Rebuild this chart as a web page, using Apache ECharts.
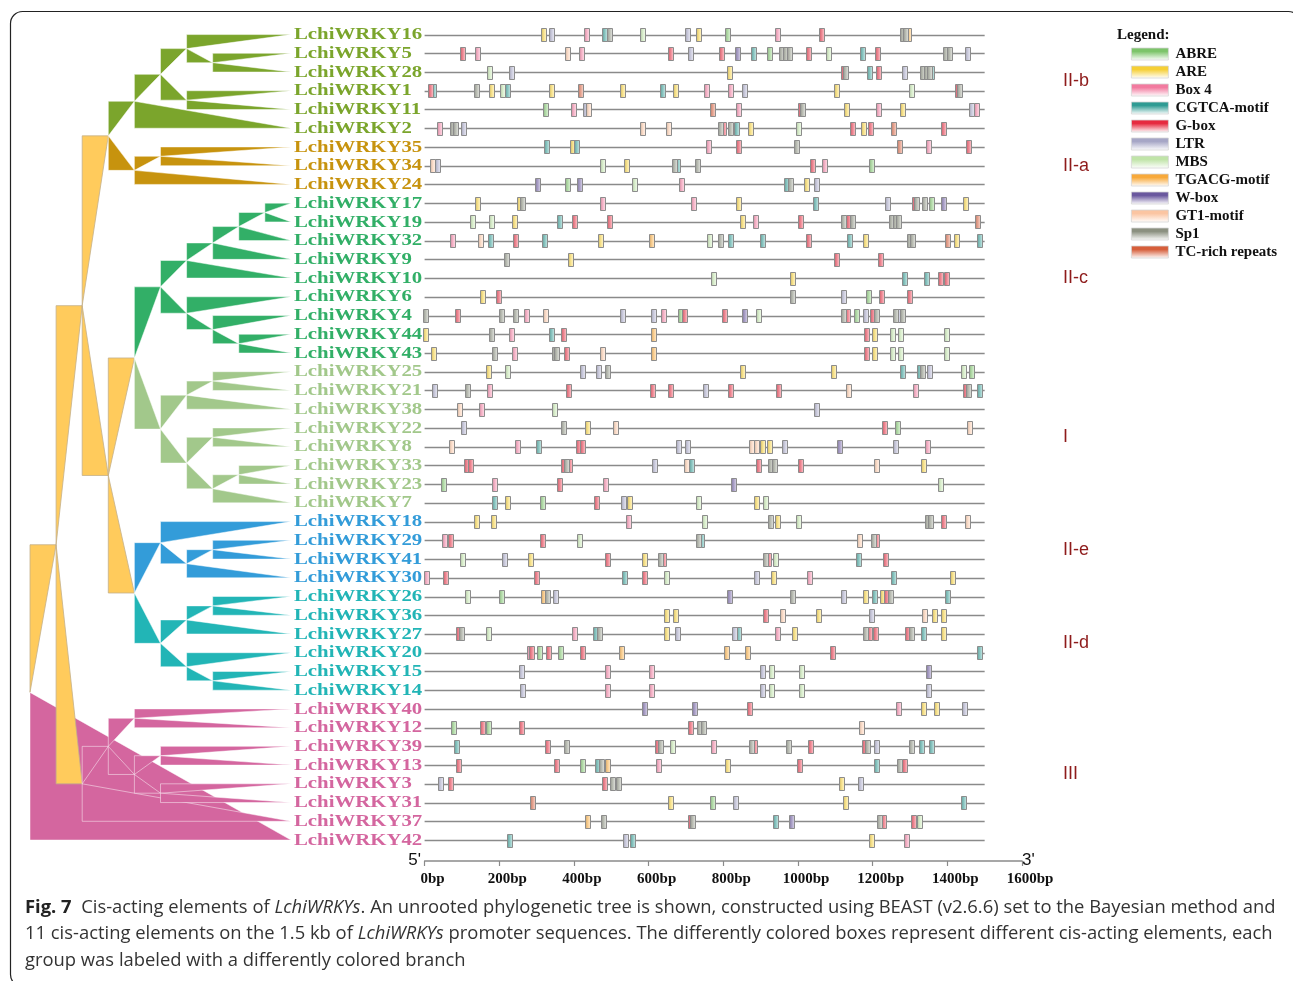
<!DOCTYPE html>
<html><head><meta charset="utf-8">
<script src="https://cdn.jsdelivr.net/npm/echarts@6/dist/echarts.min.js"></script>
<style>html,body{margin:0;padding:0;background:#fff}#c{width:1293px;height:981px}</style>
</head><body><div id="c"></div><script>
// ---------------- data ----------------
const genes = ['LchiWRKY16','LchiWRKY5','LchiWRKY28','LchiWRKY1','LchiWRKY11','LchiWRKY2',
  'LchiWRKY35','LchiWRKY34','LchiWRKY24',
  'LchiWRKY17','LchiWRKY19','LchiWRKY32','LchiWRKY9','LchiWRKY10','LchiWRKY6','LchiWRKY4','LchiWRKY44','LchiWRKY43',
  'LchiWRKY25','LchiWRKY21','LchiWRKY38','LchiWRKY22','LchiWRKY8','LchiWRKY33','LchiWRKY23','LchiWRKY7',
  'LchiWRKY18','LchiWRKY29','LchiWRKY41','LchiWRKY30',
  'LchiWRKY26','LchiWRKY36','LchiWRKY27','LchiWRKY20','LchiWRKY15','LchiWRKY14',
  'LchiWRKY40','LchiWRKY12','LchiWRKY39','LchiWRKY13','LchiWRKY3','LchiWRKY31','LchiWRKY37','LchiWRKY42'];
const geneGroup = ['II-b','II-b','II-b','II-b','II-b','II-b','II-a','II-a','II-a',
  'II-c','II-c','II-c','II-c','II-c','II-c','II-c','II-c','II-c',
  'I','I','I','I','I','I','I','I','II-e','II-e','II-e','II-e',
  'II-d','II-d','II-d','II-d','II-d','II-d','III','III','III','III','III','III','III','III'];
const groupNames = ['II-b','II-a','II-c','I','II-e','II-d','III'];
const elementNames = ['ABRE','ARE','Box 4','CGTCA-motif','G-box','LTR','MBS','TGACG-motif','W-box','GT1-motif','Sp1','TC-rich repeats'];
const elementCodes = ['A','R','B','C','G','L','M','T','W','T1','S','TC'];
const promoterLength = 1500;   // bp
const axisMaxBp = 1600;
const axisStepBp = 200;
// cis-element sites per gene row: [position (bp), element code]
const sites = [
 [[319,'R'],[341,'L'],[434,'B'],[483,'C'],[494,'S'],[584,'M'],[704,'L'],[733,'R'],[810,'A'],[945,'B'],[1063,'G'],[1279,'S'],[1287,'S'],[1295,'T']],
 [[101,'G'],[141,'B'],[383,'T1'],[421,'B'],[658,'G'],[713,'L'],[795,'G'],[838,'W'],[881,'C'],[923,'A'],[956,'S'],[967,'S'],[977,'S'],[1028,'G'],[1081,'M'],[1172,'C'],[1212,'G'],[1396,'S'],[1405,'S'],[1454,'L']],
 [[173,'M'],[234,'L'],[816,'R'],[1121,'G'],[1128,'S'],[1192,'C'],[1216,'G'],[1285,'L'],[1334,'S'],[1343,'S'],[1351,'S'],[1358,'C']],
 [[15,'G'],[24,'C'],[138,'S'],[180,'R'],[208,'M'],[223,'C'],[341,'R'],[417,'TC'],[531,'R'],[636,'C'],[673,'R'],[756,'B'],[818,'B'],[857,'L'],[1104,'R'],[1303,'M'],[1426,'G'],[1432,'S']],
 [[324,'A'],[398,'B'],[432,'L'],[440,'T1'],[770,'TC'],[840,'B'],[1006,'G'],[1012,'S'],[1129,'R'],[1216,'B'],[1281,'R'],[1464,'L'],[1478,'B']],
 [[39,'B'],[74,'S'],[83,'S'],[105,'L'],[583,'T1'],[653,'T1'],[793,'S'],[801,'G'],[820,'S'],[835,'C'],[872,'R'],[1001,'M'],[1147,'G'],[1176,'R'],[1195,'G'],[1257,'TC'],[1390,'G']],
 [[327,'C'],[396,'R'],[408,'C'],[761,'B'],[841,'G'],[995,'S'],[1273,'TC'],[1349,'B'],[1456,'G']],
 [[21,'T1'],[35,'L'],[476,'M'],[542,'R'],[669,'S'],[678,'C'],[730,'S'],[1039,'G'],[1070,'B'],[1196,'A']],
 [[302,'W'],[383,'A'],[416,'W'],[561,'M'],[688,'B'],[970,'C'],[979,'S'],[1024,'R'],[1050,'L']],
 [[143,'R'],[254,'R'],[262,'S'],[476,'B'],[720,'B'],[842,'R'],[1046,'C'],[1239,'L'],[1311,'G'],[1318,'S'],[1340,'S'],[1357,'A'],[1390,'W'],[1449,'R']],
 [[129,'M'],[180,'M'],[242,'R'],[362,'C'],[401,'G'],[496,'G'],[851,'R'],[887,'B'],[1006,'G'],[1123,'S'],[1136,'G'],[1145,'S'],[1251,'S'],[1260,'S'],[1268,'S'],[1480,'TC']],
 [[75,'B'],[150,'T1'],[176,'C'],[244,'G'],[322,'C'],[471,'R'],[607,'T'],[764,'M'],[792,'S'],[818,'C'],[906,'C'],[1028,'G'],[1138,'C'],[1180,'R'],[1298,'S'],[1307,'S'],[1400,'TC'],[1425,'R'],[1485,'C']],
 [[219,'S'],[391,'R'],[1104,'G'],[1222,'G']],
 [[775,'M'],[984,'R'],[1285,'C'],[1344,'C'],[1383,'G'],[1397,'G']],
 [[155,'R'],[199,'G'],[986,'S'],[1121,'L'],[1188,'A'],[1223,'G'],[1300,'G']],
 [[2,'S'],[87,'G'],[206,'S'],[244,'S'],[273,'B'],[324,'T1'],[531,'L'],[613,'L'],[640,'B'],[685,'A'],[696,'G'],[804,'G'],[858,'W'],[894,'M'],[1122,'S'],[1133,'G'],[1156,'A'],[1181,'L'],[1200,'G'],[1209,'S'],[1260,'S'],[1270,'L'],[1281,'S']],
 [[2,'R'],[180,'S'],[232,'B'],[341,'C'],[371,'G'],[614,'T'],[1183,'G'],[1206,'R'],[1254,'M'],[1274,'M'],[1397,'M']],
 [[23,'R'],[188,'S'],[241,'B'],[347,'S'],[354,'S'],[379,'G'],[476,'T1'],[614,'T'],[1183,'G'],[1206,'R'],[1254,'M'],[1274,'M'],[1397,'M']],
 [[171,'R'],[221,'M'],[423,'L'],[465,'L'],[489,'S'],[852,'R'],[1094,'R'],[1281,'C'],[1326,'C'],[1334,'S'],[1352,'L'],[1443,'M'],[1465,'A']],
 [[27,'L'],[116,'S'],[175,'B'],[385,'G'],[611,'G'],[659,'G'],[751,'L'],[819,'G'],[948,'G'],[1134,'T1'],[1315,'B'],[1450,'G'],[1457,'S'],[1487,'C']],
 [[93,'T1'],[152,'B'],[348,'M'],[1050,'L']],
 [[103,'L'],[371,'S'],[436,'R'],[512,'T1'],[1233,'G'],[1266,'A'],[1459,'T1']],
 [[72,'T1'],[249,'B'],[306,'C'],[413,'G'],[424,'G'],[680,'L'],[704,'L'],[875,'T1'],[888,'T1'],[904,'R'],[923,'R'],[965,'L'],[1111,'W'],[1260,'L'],[1346,'B']],
 [[111,'G'],[122,'G'],[372,'G'],[381,'S'],[389,'G'],[616,'L'],[701,'T1'],[715,'C'],[895,'G'],[926,'S'],[937,'S'],[1008,'G'],[1210,'T1'],[1335,'R']],
 [[50,'A'],[188,'B'],[360,'G'],[484,'B'],[826,'W'],[1383,'M']],
 [[187,'C'],[221,'R'],[315,'A'],[460,'G'],[534,'L'],[549,'R'],[734,'M'],[889,'R'],[913,'M']],
 [[139,'R'],[185,'R'],[546,'B'],[749,'M'],[927,'S'],[945,'R'],[1001,'M'],[1347,'S'],[1356,'S'],[1389,'G'],[1454,'T1']],
 [[54,'B'],[70,'G'],[316,'G'],[414,'M'],[734,'S'],[742,'C'],[1166,'T1'],[1203,'S'],[1211,'G']],
 [[102,'M'],[214,'L'],[284,'R'],[491,'G'],[588,'R'],[632,'S'],[641,'G'],[913,'S'],[922,'G'],[939,'M'],[1163,'C'],[1234,'G']],
 [[4,'B'],[55,'G'],[300,'G'],[536,'C'],[590,'G'],[648,'M'],[888,'L'],[934,'R'],[1032,'B'],[1257,'C'],[1413,'R']],
 [[114,'M'],[207,'A'],[319,'T'],[328,'S'],[350,'L'],[816,'W'],[984,'S'],[1122,'L'],[1180,'R'],[1206,'C'],[1227,'R'],[1238,'G'],[1249,'S'],[1400,'C']],
 [[647,'R'],[671,'R'],[913,'G'],[958,'T1'],[1054,'R'],[1197,'L'],[1338,'T1'],[1365,'R'],[1389,'R']],
 [[92,'G'],[98,'S'],[171,'M'],[401,'B'],[459,'C'],[468,'S'],[648,'R'],[677,'L'],[831,'L'],[842,'C'],[946,'B'],[990,'R'],[1181,'S'],[1192,'G'],[1208,'G'],[1294,'G'],[1303,'S'],[1335,'C'],[1390,'R']],
 [[281,'B'],[286,'G'],[307,'A'],[332,'G'],[364,'A'],[422,'G'],[528,'T'],[809,'T'],[864,'T'],[1092,'G'],[1486,'C']],
 [[259,'L'],[489,'B'],[607,'B'],[905,'L'],[930,'M'],[1010,'M'],[1349,'W']],
 [[261,'L'],[490,'B'],[608,'B'],[905,'L'],[930,'M'],[1010,'M'],[1350,'L']],
 [[588,'W'],[724,'W'],[869,'G'],[1269,'B'],[1335,'R'],[1371,'R'],[1447,'L']],
 [[77,'A'],[155,'G'],[170,'A'],[259,'G'],[711,'G'],[735,'S'],[746,'S'],[1169,'T1']],
 [[86,'C'],[328,'G'],[379,'S'],[623,'G'],[632,'S'],[664,'M'],[773,'B'],[875,'S'],[883,'G'],[975,'S'],[1034,'G'],[1179,'G'],[1187,'S'],[1209,'L'],[1305,'S'],[1332,'C'],[1358,'C']],
 [[91,'G'],[352,'G'],[422,'A'],[464,'C'],[474,'S'],[490,'T'],[626,'B'],[810,'R'],[1005,'G'],[1209,'C'],[1273,'S'],[1284,'G']],
 [[43,'L'],[69,'G'],[481,'G'],[503,'S'],[518,'S'],[1116,'R'],[1168,'L']],
 [[290,'TC'],[658,'R'],[771,'A'],[834,'L'],[1127,'R'],[1443,'C']],
 [[436,'T'],[478,'S'],[711,'G'],[718,'S'],[941,'C'],[983,'W'],[1218,'S'],[1229,'G'],[1309,'G'],[1326,'M']],
 [[227,'C'],[537,'L'],[558,'C'],[1196,'R'],[1290,'B']]
];
// tree topology: [group, depth level, children]; leaves are gene names (leaf level = 10)
const tree = ['BB',0,[
  ['BB',1,[
    ['BB',2,[
      ['BB',3,[
        ['II-b',4,[
          ['II-b',5,[
            ['II-b',6,['LchiWRKY16',['II-b',7,['LchiWRKY5','LchiWRKY28']]]],
            ['II-b',6,['LchiWRKY1','LchiWRKY11']]
          ]],
          'LchiWRKY2'
        ]],
        ['II-a',4,[['II-a',5,['LchiWRKY35','LchiWRKY34']],'LchiWRKY24']]
      ]],
      ['BB',3,[
        ['BB',4,[
          ['II-c',5,[
            ['II-c',6,[['II-c',7,[['II-c',8,[['II-c',9,['LchiWRKY17','LchiWRKY19']],'LchiWRKY32']],'LchiWRKY9']],'LchiWRKY10']],
            ['II-c',6,['LchiWRKY6',['II-c',7,['LchiWRKY4',['II-c',8,['LchiWRKY44','LchiWRKY43']]]]]]
          ]],
          ['I',5,[
            ['I',6,[['I',7,['LchiWRKY25','LchiWRKY21']],'LchiWRKY38']],
            ['I',6,[['I',7,['LchiWRKY22','LchiWRKY8']],['I',7,[['I',8,['LchiWRKY33','LchiWRKY23']],'LchiWRKY7']]]]
          ]]
        ]],
        ['BB',4,[
          ['II-e',5,['LchiWRKY18',['II-e',6,[['II-e',7,['LchiWRKY29','LchiWRKY41']],'LchiWRKY30']]]],
          ['II-d',5,[
            ['II-d',6,[['II-d',7,['LchiWRKY26','LchiWRKY36']],'LchiWRKY27']],
            ['II-d',6,['LchiWRKY20',['II-d',7,['LchiWRKY15','LchiWRKY14']]]]
          ]]
        ]]
      ]]
    ]],
    ['BB',2,[
      ['III',3,[['III',4,['LchiWRKY40','LchiWRKY12']],['III',4,[['III',5,['LchiWRKY39','LchiWRKY13']],['III',5,['LchiWRKY3','LchiWRKY31']]]]]],
      'LchiWRKY37'
    ]]
  ]],
  'LchiWRKY42'
]];

// ---------------- styles ----------------
const groupKeys = ['II-b','II-a','II-c','I','II-e','II-d','III','BB'];
const groupColors = ['#7ba52c','#c7930e','#32af67','#a2c88b','#339cd9','#22b5b6','#d4669f','#ffcb5c'];
const elementColors = ['#7cc46a','#f6cf35','#f27a9f','#2f9b93','#e62a3f','#a6a6c6','#c0e4a8','#f8a93a','#6a589e','#fbc5a2','#8b9080','#d65e3a'];
const LEAF_LEVEL = 10;

function mix(c1, c2, t){
  const a = echarts.color.parse(c1), b = echarts.color.parse(c2);
  return 'rgb(' + [0,1,2].map(k=>Math.round(a[k]*(1-t)+b[k]*t)).join(',') + ')';
}
function legendGrad(c){
  return new echarts.graphic.LinearGradient(0,0,0,1,[
    {offset:0,color:c},{offset:0.3,color:c},{offset:1,color:'#ffffff'}]);
}
function boxGrad(c){
  return new echarts.graphic.LinearGradient(0,0,1,0,[
    {offset:0,color:mix(c,'#9a9a9a',0.45)},{offset:0.5,color:mix(c,'#ffffff',0.45)},{offset:1,color:mix(c,'#ffffff',0.8)}]);
}

// ---------------- derived ----------------
const geneRow = {}; genes.forEach((g,i)=>geneRow[g]=i);
const edges = [];
function place(node){
  if (typeof node === 'string'){
    const r = geneRow[node];
    return {lv:LEAF_LEVEL, y:r, g:groupKeys.indexOf(geneGroup[r])};
  }
  const g = node[0], lv = node[1];
  const kids = node[2].map(place);
  const y = kids.reduce((s,k)=>s+k.y,0)/kids.length;
  kids.forEach(k=>edges.push([lv, y, k.lv, k.y, k.g]));
  return {lv, y, g:groupKeys.indexOf(g)};
}
place(tree);
edges.sort((a,b)=>a[0]-b[0]);

const groupCenters = groupNames.map(gn=>{
  const rows = genes.map((g,i)=>i).filter(i=>geneGroup[i]===gn);
  return [groupNames.indexOf(gn), rows.reduce((s,r)=>s+r,0)/rows.length];
});

const boxSeries = elementCodes.map((code, ei)=>{
  const data = [];
  sites.forEach((row, ri)=>row.forEach(s=>{ if (s[1]===code) data.push([s[0], ri]); }));
  const fill = boxGrad(elementColors[ei]);
  return {
    type:'custom', name: elementNames[ei], xAxisIndex:0, yAxisIndex:0, silent:true, clip:false,
    itemStyle:{color: elementColors[ei]},
    data,
    renderItem(params, api){
      const p = api.coord([api.value(0), api.value(1)]);
      return {type:'rect', shape:{x:Math.round(p[0]-2.5)+0.5, y:Math.round(p[1]-6.5)+0.5, width:5, height:13},
        style:{fill: fill, stroke:'#8c8c8c', lineWidth:1}};
    }
  };
});

const chart = echarts.init(document.getElementById('c'), null, {renderer:'canvas'});
const yAx = gi => ({gridIndex:gi, type:'value', min:-0.5, max:44.12, inverse:true, show:false,
  axisLine:{onZero:false}, splitLine:{show:false}});

const option = {
  animation:false,
  backgroundColor:'#ffffff',
  grid:[
    {left:424.6, right:271, top:25.2, bottom:120},
    {left:30, width:261, top:25.2, bottom:120}
  ],
  xAxis:[
    {gridIndex:0, type:'value', min:0, max:axisMaxBp, interval:axisStepBp,
      axisLine:{show:true, onZero:false, lineStyle:{color:'#8a8a8a', width:1.5}},
      axisTick:{show:true, length:5, lineStyle:{color:'#8a8a8a', width:1.2}},
      axisLabel:{formatter:(v)=>String(v)+'bp', fontFamily:'Liberation Serif', fontWeight:'bold', fontSize:15, color:'#111', margin:11, padding:[0,0,0,16]},
      splitLine:{show:false}},
    {gridIndex:1, type:'value', min:0, max:LEAF_LEVEL, show:false, axisLine:{onZero:false}}
  ],
  yAxis:[yAx(0), yAx(1)],
  legend:{
    orient:'vertical', left:1131, top:46.5, itemWidth:37, itemHeight:12, itemGap:3, selectedMode:false,
    icon:'rect', padding:0,
    textStyle:{fontFamily:'Liberation Serif', fontWeight:'bold', fontSize:15, color:'#111', lineHeight:15, padding:[0,0,0,2]},
    data: elementNames.map((n,i)=>({name:n, icon:'rect', itemStyle:{color:legendGrad(elementColors[i]), borderColor:'#d6d6d6', borderWidth:0.8}}))
  },
  graphic:[
    {type:'rect', shape:{x:10.5, y:11.5, width:1290, height:975, r:12}, style:{fill:'none', stroke:'#222', lineWidth:1.2}, silent:true},
    {type:'text', x:1117, y:35, style:{text:'Legend:', fontFamily:'Liberation Serif', fontWeight:'bold', fontSize:15, fill:'#111', verticalAlign:'middle'}},
    {type:'text', x:421, y:860, style:{text:"5'", fontFamily:'Liberation Sans', fontSize:17, fill:'#111', align:'right', verticalAlign:'middle'}},
    {type:'text', x:1022, y:860, style:{text:"3'", fontFamily:'Liberation Sans', fontSize:17, fill:'#111', align:'left', verticalAlign:'middle'}},
    {type:'text', x:25, y:908, style:{
      text:"{b|Fig. 7}  Cis-acting elements of {i|LchiWRKYs}. An unrooted phylogenetic tree is shown, constructed using BEAST (v2.6.6) set to the Bayesian method and",
      fontFamily:'Open Sans', fontSize:18.4, fill:'#333', verticalAlign:'middle',
      rich:{b:{fontFamily:'Open Sans', fontWeight:'bold', fontSize:18.4, fill:'#222'}, i:{fontFamily:'Open Sans', fontStyle:'italic', fontSize:18.4, fill:'#333'}}}},
    {type:'text', x:25, y:934, style:{
      text:"11 cis-acting elements on the 1.5 kb of {i|LchiWRKYs} promoter sequences. The differently colored boxes represent different cis-acting elements, each",
      fontFamily:'Open Sans', fontSize:18.4, fill:'#333', verticalAlign:'middle',
      rich:{i:{fontFamily:'Open Sans', fontStyle:'italic', fontSize:18.4, fill:'#333'}}}},
    {type:'text', x:25, y:961, style:{
      text:"group was labeled with a differently colored branch",
      fontFamily:'Open Sans', fontSize:18.4, fill:'#333', verticalAlign:'middle'}}
  ],
  series:[
    // phylogenetic tree (filled triangles)
    {type:'custom', name:'tree', xAxisIndex:1, yAxisIndex:1, silent:true, clip:false, data:edges,
      renderItem(params, api){
        const p = api.coord([api.value(0), api.value(1)]);
        const q = api.coord([api.value(0), api.value(3)]);
        const c = api.coord([api.value(2), api.value(3)]);
        const gi = api.value(4);
        return {type:'polygon', shape:{points:[p,q,c]},
          style:{fill:groupColors[gi], stroke: gi===7 ? '#c4b08a' : 'rgba(255,255,255,0.6)', lineWidth:0.8}};
      }},
    // gene labels
    {type:'custom', name:'labels', xAxisIndex:1, yAxisIndex:1, silent:true, clip:false,
      data: genes.map((g,i)=>[LEAF_LEVEL, i]),
      renderItem(params, api){
        const p = api.coord([api.value(0), api.value(1)]);
        const i = params.dataIndex;
        return {type:'text', x:p[0]+3, y:p[1]+0.5, scaleX:1.3,
          style:{text:genes[i], fontFamily:'Liberation Serif', fontWeight:'bold', fontSize:16,
            fill:groupColors[groupKeys.indexOf(geneGroup[i])], align:'left', verticalAlign:'middle'}};
      }},
    // promoter lines
    {type:'custom', name:'promoter', xAxisIndex:0, yAxisIndex:0, silent:true, clip:false,
      data: genes.map((g,i)=>[promoterLength, i]),
      renderItem(params, api){
        const a = api.coord([0, api.value(1)]);
        const b = api.coord([api.value(0), api.value(1)]);
        return {type:'line', shape:{x1:a[0], y1:Math.round(a[1])+0.5, x2:b[0], y2:Math.round(b[1])+0.5},
          style:{stroke:'#8a8a8a', lineWidth:1.6}};
      }},
    ...boxSeries,
    // group labels
    {type:'custom', name:'groups', xAxisIndex:0, yAxisIndex:0, silent:true, clip:false,
      data: groupCenters,
      renderItem(params, api){
        const p = api.coord([axisMaxBp, api.value(1)]);
        return {type:'text', x:p[0]+41, y:p[1],
          style:{text:groupNames[api.value(0)], fontFamily:'Liberation Sans', fontSize:18, fill:'#8e1b1b', align:'left', verticalAlign:'middle'}};
      }}
  ]
};
chart.setOption(option);
</script></body></html>
